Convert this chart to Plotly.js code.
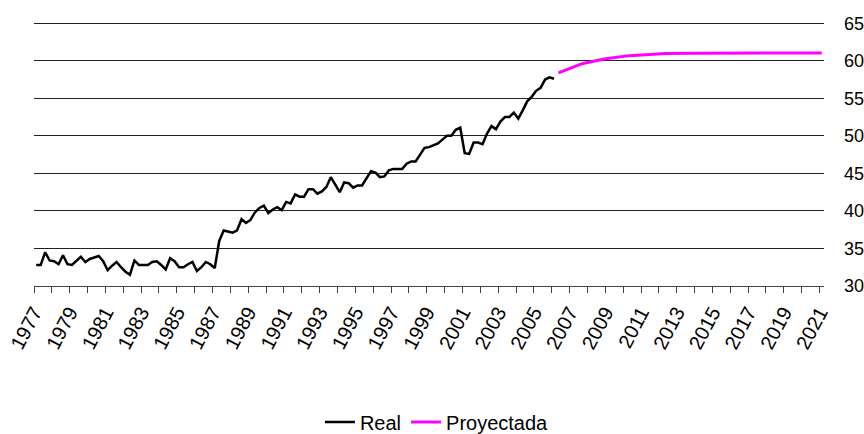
<!DOCTYPE html>
<html>
<head>
<meta charset="utf-8">
<script src="https://cdn.plot.ly/plotly-3.0.1.min.js"></script>
<style>html,body{margin:0;padding:0;background:#fff;}#chart{width:864px;height:434px;}</style>
</head>
<body>
<div id="chart"></div>
<script>
// Quarterly series, first quarter of 1977 onward
const startYear = 1977;
const realValues = [
  32.8, 32.8, 34.5, 33.4, 33.3, 32.9, 34.1, 32.9, 32.8, 33.3,
  33.9, 33.2, 33.6, 33.8, 34.0, 33.3, 32.1, 32.7, 33.2, 32.5,
  31.9, 31.5, 33.4, 32.8, 32.8, 32.8, 33.2, 33.3, 32.8, 32.2,
  33.7, 33.3, 32.5, 32.5, 32.9, 33.2, 32.0, 32.5, 33.2, 32.9,
  32.4, 36.0, 37.4, 37.3, 37.1, 37.4, 38.9, 38.4, 38.8, 39.8,
  40.4, 40.7, 39.7, 40.2, 40.5, 40.1, 41.2, 41.0, 42.2, 41.9,
  41.9, 42.9, 42.9, 42.3, 42.6, 43.2, 44.5, 43.5, 42.5, 43.8,
  43.7, 43.1, 43.4, 43.4, 44.3, 45.3, 45.1, 44.5, 44.6, 45.4,
  45.6, 45.6, 45.6, 46.3, 46.6, 46.6, 47.5, 48.4, 48.5, 48.7,
  49.0, 49.5, 50.0, 50.0, 50.8, 51.1, 47.7, 47.6, 49.1, 49.1,
  48.9, 50.3, 51.3, 50.9, 51.9, 52.5, 52.5, 53.1, 52.3, 53.4,
  54.6, 55.2, 56.0, 56.4, 57.5, 57.8, 57.6
];
const projectedValues = [
  58.4, 58.65, 58.9, 59.15, 59.35, 59.55, 59.7, 59.85, 59.98, 60.1,
  60.2, 60.3, 60.4, 60.48, 60.55, 60.62, 60.68, 60.73, 60.78, 60.82,
  60.86, 60.89, 60.92, 60.94, 60.96, 60.98, 60.99, 61.0, 61.0, 61.0,
  61.0, 61.0, 61.0, 61.0, 61.0, 61.01, 61.01, 61.01, 61.01, 61.02,
  61.02, 61.02, 61.02, 61.03, 61.03, 61.03, 61.03, 61.03, 61.04, 61.04,
  61.04, 61.04, 61.04, 61.05, 61.05, 61.05, 61.05, 61.05, 61.05, 61.05
];
const yearTicks = [];
for (let y = 1977; y <= 2021; y++) yearTicks.push(y);
const yearLabels = yearTicks.map(y => ((y - 1977) % 2 === 0 ? String(y) : ''));
const yTicks = [30, 35, 40, 45, 50, 55, 60, 65];
const seriesNames = ['Real', 'Proyectada'];

// quarter midpoints on a numeric year axis
const realX = realValues.map((_, i) => startYear + (i + 0.5) / 4);
const projX = projectedValues.map((_, i) => startYear + (realValues.length + i + 0.5) / 4);

const font = 'Liberation Sans, Arial, sans-serif';
const traces = [
  {x: realX, y: realValues, type: 'scatter', mode: 'lines', name: seriesNames[0],
   line: {color: '#000000', width: 2.5}},
  {x: projX, y: projectedValues, type: 'scatter', mode: 'lines', name: seriesNames[1],
   line: {color: '#ff00ff', width: 3}}
];
const layout = {
  width: 864, height: 434,
  margin: {l: 34, r: 40, t: 21, b: 148, autoexpand: false},
  paper_bgcolor: '#ffffff', plot_bgcolor: '#ffffff',
  font: {family: font, color: '#000000', size: 18},
  showlegend: true,
  legend: {orientation: 'h', x: 0.51, xanchor: 'center', y: -0.513, yanchor: 'middle',
           font: {family: font, size: 20, color: '#000'}, tracegroupgap: 0},
  xaxis: {
    range: [1977, 2021.25], tickmode: 'array', tickvals: yearTicks, ticktext: yearLabels,
    tickangle: -62, ticks: 'outside', ticklen: 6, tickcolor: '#444', tickwidth: 1,
    showline: true, linecolor: '#444', linewidth: 1, showgrid: false, zeroline: false,
    automargin: false,
    tickfont: {family: font, size: 20, color: '#000'}
  },
  yaxis: {
    range: [30, 65.3], tickmode: 'array', tickvals: yTicks, side: 'right', showgrid: true,
    gridcolor: '#222', gridwidth: 1, automargin: false,
    zeroline: false, showline: false, ticks: '', ticklabelstandoff: 19,
    tickfont: {family: font, size: 18, color: '#000'}
  }
};
Plotly.newPlot('chart', traces, layout, {staticPlot: true, displayModeBar: false});
</script>
</body>
</html>
